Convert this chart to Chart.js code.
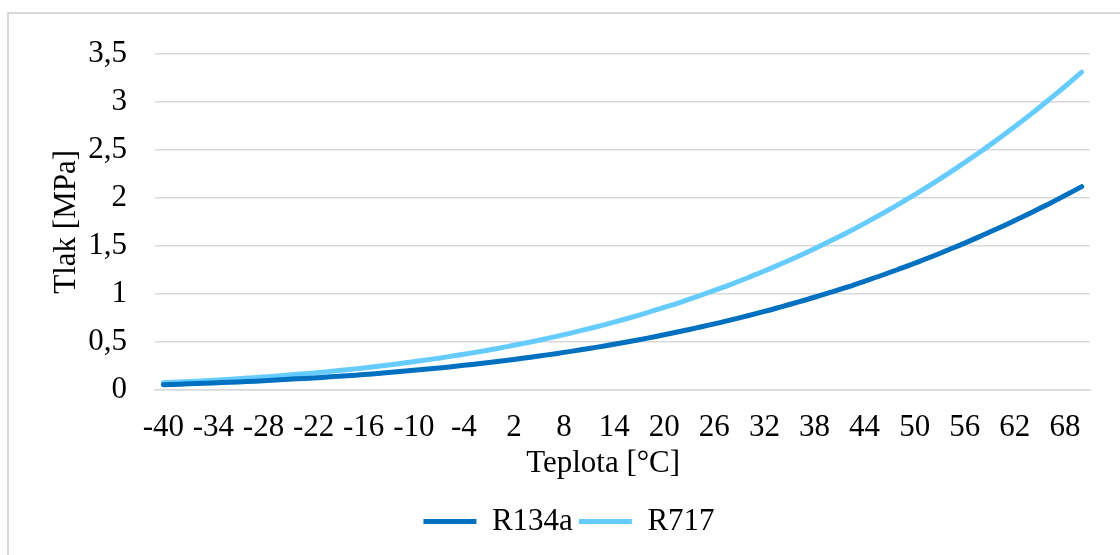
<!DOCTYPE html>
<html>
<head>
<meta charset="utf-8">
<script src="https://cdn.jsdelivr.net/npm/chart.js@4.4.1/dist/chart.umd.min.js"></script>
<style>
  body { margin: 0; background: #fff; }
  #wrap { position: relative; width: 1120px; height: 555px; overflow: hidden; }
  #frame { position: absolute; left: 7px; top: 12px; width: 1200px; height: 600px; border-left: 2px solid #d9d9d9; border-top: 2px solid #d9d9d9; }
  canvas { position: absolute; left: 0; top: 0; }
</style>
</head>
<body>
<div id="wrap">
  <div id="frame"></div>
  <canvas id="pressureChart" width="1120" height="555"></canvas>
</div>
<script>
const temperatures = [
  -40, -38, -36, -34, -32, -30, -28, -26, -24, -22, -20, -18, -16, -14,
  -12, -10, -8, -6, -4, -2, 0, 2, 4, 6, 8, 10, 12, 14,
  16, 18, 20, 22, 24, 26, 28, 30, 32, 34, 36, 38, 40, 42,
  44, 46, 48, 50, 52, 54, 56, 58, 60, 62, 64, 66, 68, 70
];

const r134a = [
  0.051, 0.057, 0.063, 0.070, 0.077, 0.084, 0.093, 0.102, 0.112, 0.122, 0.133, 0.145, 0.157, 0.171,
  0.185, 0.201, 0.217, 0.234, 0.253, 0.272, 0.293, 0.315, 0.338, 0.362, 0.388, 0.415, 0.443, 0.473,
  0.504, 0.537, 0.572, 0.608, 0.646, 0.685, 0.727, 0.770, 0.815, 0.863, 0.912, 0.963, 1.017, 1.072,
  1.130, 1.190, 1.253, 1.318, 1.385, 1.456, 1.528, 1.604, 1.682, 1.763, 1.847, 1.934, 2.024, 2.117
];

const r717 = [
  0.072, 0.080, 0.088, 0.098, 0.108, 0.120, 0.131, 0.145, 0.159, 0.174, 0.190, 0.207, 0.226, 0.246,
  0.268, 0.291, 0.315, 0.341, 0.369, 0.398, 0.429, 0.462, 0.497, 0.534, 0.573, 0.615, 0.658, 0.704,
  0.752, 0.803, 0.857, 0.913, 0.972, 1.034, 1.098, 1.167, 1.237, 1.312, 1.389, 1.470, 1.555, 1.642,
  1.734, 1.830, 1.929, 2.033, 2.140, 2.252, 2.369, 2.488, 2.614, 2.743, 2.878, 3.018, 3.161, 3.312
];

const FONT = 'Liberation Serif, "Times New Roman", serif';
const GRID = '#d9d9d9';

const chartCanvas = document.getElementById('pressureChart');

new Chart(chartCanvas, {
  type: 'line',
  data: {
    labels: temperatures,
    datasets: [
      {
        label: 'R134a',
        data: r134a,
        borderColor: '#0070c0',
        backgroundColor: '#0070c0',
        borderWidth: 5,
        borderCapStyle: 'round',
        pointRadius: 0,
        tension: 0.4
      },
      {
        label: 'R717',
        data: r717,
        borderColor: '#66ccff',
        backgroundColor: '#66ccff',
        borderWidth: 5,
        borderCapStyle: 'round',
        pointRadius: 0,
        tension: 0.4
      }
    ]
  },
  options: {
    responsive: false,
    animation: false,
    layout: { padding: { left: 48, top: 54, right: 30, bottom: 8 } },
    plugins: {
      tooltip: { enabled: false },
      legend: {
        position: 'bottom',
        labels: {
          usePointStyle: true,
          pointStyle: 'line',
          pointStyleWidth: 53,
          color: '#000',
          padding: 6,
          font: { family: FONT, size: 31 }
        }
      }
    },
    scales: {
      x: {
        offset: true,
        grid: { display: false, drawTicks: false },
        border: { color: GRID, width: 1.5 },
        ticks: {
          autoSkip: false,
          maxRotation: 0,
          padding: 20,
          color: '#000',
          font: { family: FONT, size: 31 },
          callback: (value, index) => (index % 3 === 0 ? temperatures[index] : '')
        },
        title: {
          display: true,
          text: 'Teplota [°C]\u00a0\u00a0\u00a0\u00a0\u00a0',
          color: '#000',
          padding: { top: -22, bottom: 18 },
          font: { family: FONT, size: 31 }
        }
      },
      y: {
        min: 0,
        max: 3.5,
        afterFit: (scale) => { scale.width = 107; },
        grid: { color: GRID, lineWidth: 1.5, drawTicks: false },
        border: { display: false },
        ticks: {
          stepSize: 0.5,
          padding: 28,
          color: '#000',
          font: { family: FONT, size: 31 },
          callback: (value) => value.toString().replace('.', ',')
        },
        title: {
          display: true,
          text: 'Tlak [MPa]',
          color: '#000',
          padding: { top: 0, bottom: 0 },
          font: { family: FONT, size: 31 }
        }
      }
    }
  }
});
</script>
</body>
</html>
